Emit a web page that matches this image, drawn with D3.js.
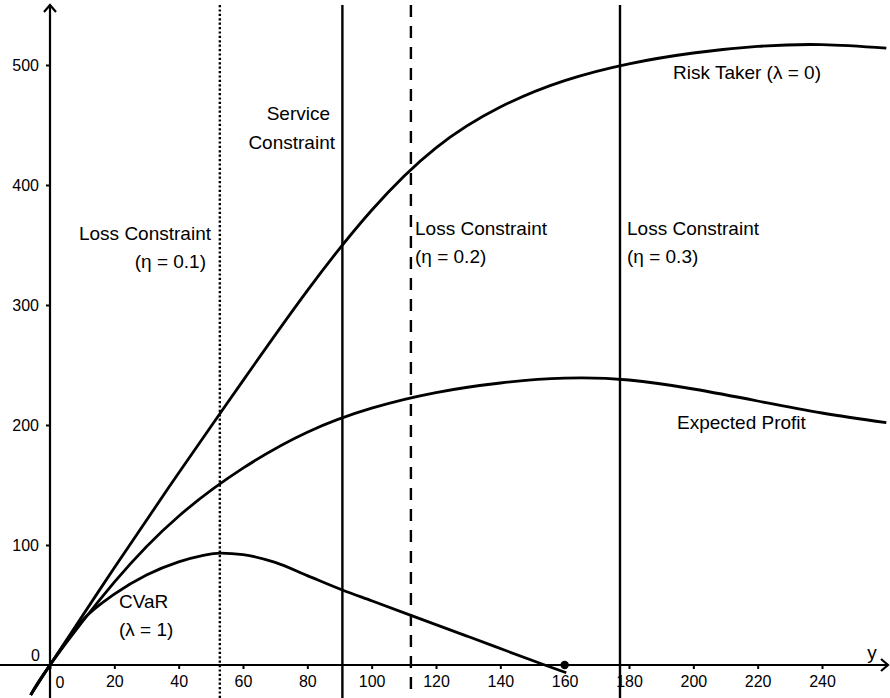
<!DOCTYPE html>
<html><head><meta charset="utf-8">
<script src="https://cdn.jsdelivr.net/npm/d3@7"></script>
<style>
html,body{margin:0;padding:0;background:#fff;}
svg{display:block;font-family:"Liberation Sans",Arial,sans-serif;}
</style></head>
<body>
<svg id="chart" width="890" height="698"></svg>
<script>
// ---- data ----
const xTicks = [0,20,40,60,80,100,120,140,160,180,200,220,240];
const yTicks = [0,100,200,300,400,500];

const riskTakerX = [-6,0,20,40,60,80,100,120,140,160,180,200,220,240,260];
const riskTakerY = [-25,0,81,160,237,312,379,431,465,487,501,510,515.5,517,514];

const profitX = [-6,0,20,40,60,80,100,120,140,160,180,200,220,240,260];
const profitY = [-25,0,69,124,164,194,214,227,235,239,237.5,230,220,210,202];

const cvarX = [-6,0,10,20,30,40,47,53,60,70,80,90.9,100,112.2,130,153.8,160.5];
const cvarY = [-25,0,37,59,75,86,91,93.3,92,85.5,74.5,62.5,53.5,41.4,23.7,0,-6.5];

const constraintX = [52.8, 90.9, 112.2, 177.2];
const constraintStyle = ["dotted","solid","dashed","solid"];

const markerX = [160];
const markerY = [0];

// ---- scales ----
const svg = d3.select("#chart");
const x = d3.scaleLinear().domain([0,240]).range([50,822]);
const y = d3.scaleLinear().domain([0,500]).range([665,65]);

// ---- constraint lines ----
const dashFor = {dotted:"2.2,2.2", solid:null, dashed:"12,9"};
constraintX.forEach((v,i)=>{
  svg.append("line")
    .attr("x1",x(v)).attr("x2",x(v))
    .attr("y1",y(550)).attr("y2",y(-30))
    .attr("stroke","#000")
    .attr("stroke-width",2.4)
    .attr("stroke-dasharray",dashFor[constraintStyle[i]]);
});

// ---- axes ----
const tickFont = 16;
const xAxis = d3.axisBottom(x).tickValues(xTicks).tickSize(4).tickFormat(d=> d===0 ? "" : d);
const gx = svg.append("g").attr("transform",`translate(0,${y(0)})`).call(xAxis);
gx.select(".domain").remove();
gx.selectAll(".tick line").attr("stroke","#000").attr("stroke-width",2);
gx.selectAll(".tick text").attr("font-size",tickFont).attr("font-family","Liberation Sans, Arial, sans-serif").attr("fill","#000").attr("dy","0.95em");

const yAxis = d3.axisLeft(y).tickValues(yTicks.filter(d=>d!==0)).tickSize(4).tickPadding(7);
const gy = svg.append("g").attr("transform",`translate(${x(0)},0)`).call(yAxis);
gy.select(".domain").remove();
gy.selectAll(".tick line").attr("stroke","#000").attr("stroke-width",2);
gy.selectAll(".tick text").attr("font-size",tickFont).attr("font-family","Liberation Sans, Arial, sans-serif").attr("fill","#000");

// origin labels
svg.append("text").attr("x",x(0)+10).attr("y",y(0)+23).attr("text-anchor","middle").attr("font-size",tickFont).text("0");
svg.append("text").attr("x",x(0)-10).attr("y",y(0)-4).attr("text-anchor","end").attr("font-size",tickFont).text("0");

// axis lines with arrows
svg.append("line").attr("x1",0).attr("x2",888).attr("y1",y(0)).attr("y2",y(0)).attr("stroke","#000").attr("stroke-width",2.2);
svg.append("path").attr("d",`M881,${y(0)-6} L888,${y(0)} L881,${y(0)+6}`).attr("fill","none").attr("stroke","#000").attr("stroke-width",2.2);
svg.append("line").attr("x1",x(0)).attr("x2",x(0)).attr("y1",698).attr("y2",5).attr("stroke","#000").attr("stroke-width",2.2);
svg.append("path").attr("d",`M${x(0)-6},12 L${x(0)},5 L${x(0)+6},12`).attr("fill","none").attr("stroke","#000").attr("stroke-width",2.2);
svg.append("text").attr("x",872).attr("y",659).attr("text-anchor","middle").attr("font-size",19).text("y");

// ---- curves ----
const smooth = d3.line().x(d=>x(d[0])).y(d=>y(d[1])).curve(d3.curveNatural);
const mono = d3.line().x(d=>x(d[0])).y(d=>y(d[1])).curve(d3.curveMonotoneX);
[[riskTakerX,riskTakerY,smooth],[profitX,profitY,smooth],[cvarX,cvarY,mono]].forEach(([xs,ys,gen])=>{
  svg.append("path")
    .attr("d",gen(xs.map((v,i)=>[v,ys[i]])))
    .attr("fill","none").attr("stroke","#000").attr("stroke-width",2.8);
});

// marker
svg.append("circle").attr("cx",x(markerX[0])).attr("cy",y(markerY[0])).attr("r",4.2).attr("fill","#000");

// ---- labels ----
const labels = [
  {t:"Service", x:330, y:120, a:"end"},
  {t:"Constraint", x:335, y:149, a:"end"},
  {t:"Loss Constraint", x:211, y:240, a:"end"},
  {t:"(η = 0.1)", x:206, y:268, a:"end"},
  {t:"Loss Constraint", x:415, y:235, a:"start"},
  {t:"(η = 0.2)", x:415, y:263, a:"start"},
  {t:"Loss Constraint", x:627, y:235, a:"start"},
  {t:"(η = 0.3)", x:627, y:263, a:"start"},
  {t:"Risk Taker (λ = 0)", x:673, y:79, a:"start"},
  {t:"Expected Profit", x:677, y:429, a:"start"},
  {t:"CVaR", x:119, y:608, a:"start"},
  {t:"(λ = 1)", x:119, y:636, a:"start"}
];
labels.forEach(l=>{
  svg.append("text").attr("x",l.x).attr("y",l.y).attr("text-anchor",l.a)
    .attr("font-size",19).attr("fill","#000").text(l.t);
});
</script>
</body></html>
